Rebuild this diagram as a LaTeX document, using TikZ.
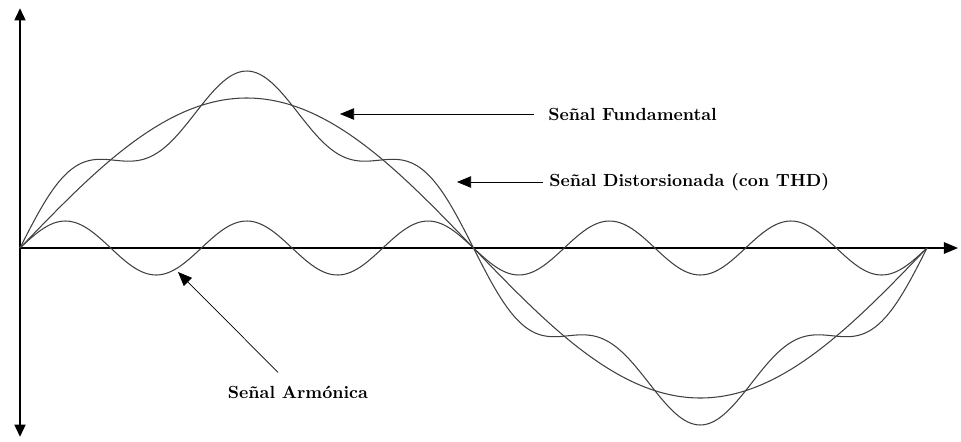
\documentclass[tikz,border=0pt]{standalone}
\usetikzlibrary{arrows.meta}
\begin{document}
\begin{tikzpicture}[>={Triangle[length=8pt,width=6.5pt]}, x=0.02cm, y=0.02cm,
  etiqueta/.style={font=\bfseries, inner sep=0pt},
  onda/.style={smooth, samples=300, domain=0:907, line width=0.6pt, black!75}]
\useasboundingbox (-20,-193) rectangle (941,248);
% ejes
\draw[{Triangle[length=7pt,width=6pt]}-{Triangle[length=7pt,width=6pt]}, line width=1.6pt] (0,-189)--(0,240);
\draw[->, line width=0.8pt] (0,0)--(938,0);
% ondas: fundamental, armonica (5a) y distorsionada
\draw[onda] plot(\x,{150*sin(\x/907*360)});
\draw[onda] plot(\x,{27*sin(\x/907*1800)});
\draw[onda] plot(\x,{150*sin(\x/907*360)+27*sin(\x/907*1800)});
% rotulos
\node[etiqueta, anchor=west] (lblF) at (528,134) {Señal Fundamental};
\node[etiqueta, anchor=west] (lblD) at (529,66) {Señal Distorsionada (con THD)};
\node[etiqueta] (lblA) at (278,-144) {Señal Armónica};
\coordinate (fTip) at (320,134);
\coordinate (dTip) at (437,66);
\coordinate (aTip) at (158,-24);
\draw[->, shorten <=8pt] (lblF.west) -- (fTip);
\draw[->, shorten <=3.5pt] (lblD.west) -- (dTip);
\draw[->] ([xshift=-0.4cm,yshift=0.26cm]lblA.north) -- (aTip);
\end{tikzpicture}
\end{document}
